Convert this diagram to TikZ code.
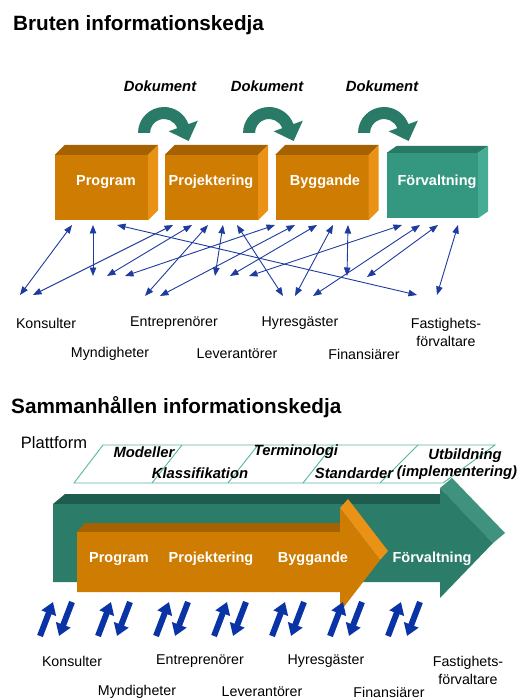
\documentclass[tikz,border=0pt]{standalone}
\usepackage{fontspec}
\setmainfont{Liberation Sans}
\usetikzlibrary{arrows.meta}
\definecolor{orfront}{RGB}{206,124,2}
\definecolor{ortop}{RGB}{166,98,0}
\definecolor{orside}{RGB}{234,146,22}
\definecolor{tlfront}{RGB}{52,152,128}
\definecolor{tltop}{RGB}{40,122,102}
\definecolor{tlside}{RGB}{70,172,148}
\definecolor{tldoc}{RGB}{42,122,104}
\definecolor{tlbig}{RGB}{44,124,106}
\definecolor{tlbigtop}{RGB}{30,92,78}
\definecolor{tlbigside}{RGB}{62,146,126}
\definecolor{arrblue}{RGB}{30,60,160}
\definecolor{thickblue}{RGB}{10,52,166}
\definecolor{platcol}{RGB}{86,182,162}
\begin{document}
\begin{tikzpicture}[x=1pt,y=-1pt,
  ttl/.style={font=\fontsize{20.7}{24}\selectfont\bfseries, anchor=west, inner sep=0pt},
  boxlbl/.style={font=\fontsize{14.5}{17}\selectfont\bfseries, text=white, inner sep=0pt},
  actorlbl/.style={font=\fontsize{14.2}{18}\selectfont, inner sep=0pt, align=center},
  bitext/.style={font=\fontsize{14.8}{17}\selectfont\bfseries\itshape, inner sep=0pt},
  cubefront/.style={fill=#1, inner sep=0pt, minimum width=93pt, minimum height=65pt},
  linkarr/.style={draw=arrblue, line width=0.9pt, {Triangle[length=8.5pt,width=6.5pt]}-{Triangle[length=8.5pt,width=6.5pt]}},
  flowarr/.style={draw=thickblue, line width=6pt, -{Triangle[length=12pt,width=15pt]}},
  platedge/.style={draw=platcol, line width=0.9pt},
  docarrow/.pic={\fill[tldoc] (-26,0) arc[start angle=-180,end angle=-20,radius=26] -- (33.8,-12.3) -- (24.6,8.0) -- (4.7,-1.7) -- (13.2,-4.8) arc[start angle=-20,end angle=-180,radius=14] -- cycle;}
]
\useasboundingbox (0,0) rectangle (525,700);
\fill[white] (0,0) rectangle (525,700);

% ---------- Part 1 ----------
\node[ttl] (title1) at (13,25) {Bruten informationskedja};

\node[bitext] (dok1) at (160,86) {Dokument};
\node[bitext] (dok2) at (267,86) {Dokument};
\node[bitext] (dok3) at (382,86) {Dokument};
\pic at (164,133) {docarrow};
\pic at (269,133) {docarrow};
\pic at (384,133) {docarrow};

\foreach \nm/\cx in {progbox/101.5, projbox/211.5, byggbox/322}{
  \node[cubefront=orfront] (\nm) at (\cx,187.5) {};
  \fill[ortop] (\nm.north west) -- ++(10,-10) -- ([shift={(10,-10)}]\nm.north east) -- (\nm.north east) -- cycle;
  \fill[orside] (\nm.north east) -- ++(10,-10) -- ([shift={(10,-10)}]\nm.south east) -- (\nm.south east) -- cycle;
}
\node[cubefront=tlfront, minimum width=91pt] (forvbox) at (432.5,185.5) {};
\fill[tltop] (forvbox.north west) -- ++(10,-7) -- ([shift={(10,-7)}]forvbox.north east) -- (forvbox.north east) -- cycle;
\fill[tlside] (forvbox.north east) -- ++(10,-7) -- ([shift={(10,-7)}]forvbox.south east) -- (forvbox.south east) -- cycle;

\node[boxlbl] (progL) at (106,182) {Program};
\node[boxlbl] (projL) at (211,182) {Projektering};
\node[boxlbl] (byggL) at (325,182) {Byggande};
\node[boxlbl] (forvL) at (437,182) {Förvaltning};

\node[actorlbl] (kons1) at (46,323) {Konsulter};
\node[actorlbl] (entr1) at (174,323) {Entreprenörer};
\node[actorlbl] (hyr1) at (300,323) {Hyresgäster};
\node[actorlbl] (fast1) at (446,332) {Fastighets-\\förvaltare};
\node[actorlbl] (mynd1) at (110,354) {Myndigheter};
\node[actorlbl] (lev1) at (237,354) {Leverantörer};
\node[actorlbl] (fin1) at (364,354) {Finansiärer};

\foreach \i/\tx/\bx/\by in {1/72/20/295, 2/93/93/276, 3/117/417/295, 4/173/33/295,
  5/192/107/276, 6/208/145/296, 7/223/215/276, 8/237/283/296, 9/275/125/276,
  10/295/160/296, 11/317/230/276, 12/333/295/296, 13/348/347/276, 14/402/249/276,
  15/420/313/296, 16/438/367/277, 17/458/437/295}{
  \coordinate (t\i) at (\tx,225);
  \coordinate (b\i) at (\bx,\by);
  \draw[linkarr] (t\i) -- (b\i);
}

% ---------- Part 2 ----------
\node[ttl] (title2) at (11,407) {Sammanhållen informationskedja};
\node[font=\fontsize{16.5}{19}\selectfont, inner sep=0pt] (platt) at (54,443) {Plattform};

% big teal arrow
\fill[tlbigtop] (53,504) -- (65,494) -- (452,494) -- (440,504) -- cycle;
\fill[tlbigside] (440,488) -- (452,478) -- (505,533) -- (493,543) -- cycle;
\fill[tlbig] (53,504) -- (440,504) -- (440,488) -- (493,543) -- (440,598) -- (440,582) -- (53,582) -- cycle;

% orange arrow
\fill[ortop] (77,532) -- (85,523) -- (348,523) -- (340,532) -- cycle;
\fill[orside] (340,508) -- (348,499) -- (388,551) -- (380,560) -- cycle;
\fill[orfront] (77,532) -- (340,532) -- (340,508) -- (380,560) -- (340,612) -- (340,592) -- (77,592) -- cycle;

\node[boxlbl] (prog2) at (119,559) {Program};
\node[boxlbl] (proj2) at (211,559) {Projektering};
\node[boxlbl] (bygg2) at (313,559) {Byggande};
\node[boxlbl] (forv2) at (432,559) {Förvaltning};

% platform
\draw[platedge] (74,483) -- (103,445) -- (495,445) -- (443,483) -- cycle;
\draw[platedge] (152,483) -- (182,445);
\draw[platedge] (228,483) -- (258,445);
\draw[platedge] (303,483) -- (333,445);
\draw[platedge] (380,483) -- (418,445);
\node[bitext] (mod) at (144,452) {Modeller};
\node[bitext] (klass) at (200,473) {Klassifikation};
\node[bitext] (term) at (296,452) {Terminologi};
\node[bitext] (stand) at (354,473) {Standarder};
\node[bitext] (utb) at (465,456) {Utbildning};
\node[bitext] (impl) at (457,473) {(implementering)};

% thick exchange arrows
\foreach \p [count=\k] in {56,114,172,230,288,346,404}{
  \coordinate (ua\k) at (\p-16,636);
  \coordinate (ub\k) at (\p-3,602);
  \coordinate (da\k) at (\p+16,602);
  \coordinate (db\k) at (\p+3,636);
  \draw[flowarr] (ua\k) -- (ub\k);
  \draw[flowarr] (da\k) -- (db\k);
}

\node[actorlbl] (kons2) at (72,661) {Konsulter};
\node[actorlbl] (entr2) at (200,661) {Entreprenörer};
\node[actorlbl] (hyr2) at (326,661) {Hyresgäster};
\node[actorlbl] (fast2) at (468,670) {Fastighets-\\förvaltare};
\node[actorlbl] (mynd2) at (137,692) {Myndigheter};
\node[actorlbl] (lev2) at (262,692) {Leverantörer};
\node[actorlbl] (fin2) at (389,692) {Finansiärer};
\end{tikzpicture}
\end{document}
